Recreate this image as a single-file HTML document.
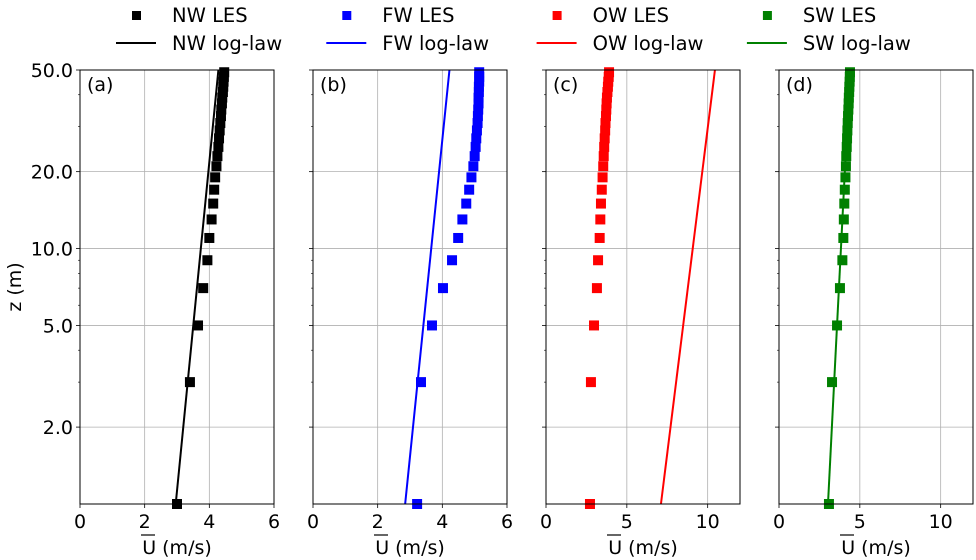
<!DOCTYPE html>
<html><head><meta charset="utf-8">
<style>
html,body{margin:0;padding:0;background:#fff;}
svg{display:block;font-family:"DejaVu Sans","Liberation Sans",sans-serif;}
</style></head>
<body>
<svg id="chart" width="976" height="560" viewBox="0 0 976 560" xmlns="http://www.w3.org/2000/svg"></svg>
<script>
const zLevels = [1,3,5,7,9,11,13,15,17,19,21,23,25,27,29,31,33,35,37,39,41,43,45,47,49];
const nwLes = [3.0,3.40,3.65,3.81,3.94,4.0,4.07,4.12,4.15,4.18,4.22,4.25,4.28,4.30,4.32,4.34,4.36,4.37,4.39,4.40,4.42,4.43,4.44,4.45,4.46];
const fwLes = [3.22,3.34,3.68,4.02,4.30,4.49,4.62,4.74,4.83,4.90,4.96,5.00,5.03,5.05,5.07,5.09,5.10,5.11,5.12,5.12,5.13,5.13,5.14,5.14,5.14];
const owLes = [2.72,2.78,2.97,3.15,3.22,3.32,3.36,3.40,3.45,3.50,3.54,3.57,3.60,3.63,3.66,3.68,3.71,3.73,3.75,3.77,3.80,3.83,3.85,3.88,3.90];
const swLes = [3.09,3.28,3.59,3.77,3.92,3.98,4.01,4.04,4.07,4.11,4.14,4.16,4.19,4.21,4.23,4.25,4.27,4.29,4.31,4.32,4.34,4.35,4.37,4.38,4.39];
const logLawZ = [1,50];
const nwLog = [2.96,4.28];
const fwLog = [2.85,4.22];
const owLog = [7.11,10.45];
const swLog = [3.03,4.39];
const panelLabels = ['(a)','(b)','(c)','(d)'];
const panelNames = ['nw','fw','ow','sw'];
const xMaxes = [6,6,12,12];
const xTicksSmall = [0,2,4,6];
const xTicksLarge = [0,5,10];
const yTickVals = [2,5,10,20,50];
const yTickLabels = ['2.0','5.0','10.0','20.0','50.0'];
const yMinorVals = [3,4,6,7,8,9,30,40];
const legendNames = ['NW','FW','OW','SW'];
const colors = ['#000000','#0000ff','#ff0000','#008000'];

const svgEl = document.getElementById('chart');
const NS = 'http://www.w3.org/2000/svg';
function mk(tag, attrs, parent){const e=document.createElementNS(NS,tag);for(const k in attrs)e.setAttribute(k,attrs[k]);(parent||svgEl).appendChild(e);return e;}

const axTop=70, axBot=504, axW=194;
const lefts=[80,313,546,779];
function yS(z){return axBot-(Math.log10(z)/Math.log10(50))*(axBot-axTop);}
const lesData=[nwLes,fwLes,owLes,swLes];
const logData=[nwLog,fwLog,owLog,swLog];

for(let p=0;p<4;p++){
  const x0=lefts[p], xm=xMaxes[p];
  const xS=v=>x0+v/xm*axW;
  const g=mk('g',{});
  
  
  const clipId='clip'+p;
  const cp=mk('clipPath',{id:clipId},g); mk('rect',{x:x0,y:axTop,width:axW,height:axBot-axTop},cp);
  const ticks = xm===6?xTicksSmall:xTicksLarge;
  ticks.forEach(t=>{
    const gl=mk('line',{x1:xS(t),x2:xS(t),y1:axTop,y2:axBot,stroke:'#b0b0b0','stroke-width':0.8},g);
    
    
    mk('line',{x1:xS(t),x2:xS(t),y1:axBot,y2:axBot+4,stroke:'#000','stroke-width':0.8},g);
    const tl=mk('text',{x:xS(t),y:axBot+24,'text-anchor':'middle','font-size':19,fill:'#000'},g);
    tl.textContent=t;
    
    
  });
  yTickVals.forEach((v,i)=>{
    const gl=mk('line',{x1:x0,x2:x0+axW,y1:yS(v),y2:yS(v),stroke:'#b0b0b0','stroke-width':0.8},g);
    
    
    mk('line',{x1:x0-4,x2:x0,y1:yS(v),y2:yS(v),stroke:'#000','stroke-width':0.8},g);
    if(p===0){
      const tl=mk('text',{x:x0-7,y:yS(v)+7,'text-anchor':'end','font-size':19,fill:'#000'},g);
      tl.textContent=yTickLabels[i];
      
      
    }
  });
  yMinorVals.forEach(v=>{mk('line',{x1:x0-2,x2:x0,y1:yS(v),y2:yS(v),stroke:'#000','stroke-width':0.6},g);});
  const ll=mk('line',{x1:xS(logData[p][0]),y1:yS(logLawZ[0]),x2:xS(logData[p][1]),y2:yS(logLawZ[1]),stroke:colors[p],'stroke-width':2,'clip-path':'url(#'+clipId+')'},g);
  
  
  lesData[p].forEach((u,i)=>{
    const r=mk('rect',{x:xS(u)-5,y:yS(zLevels[i])-5,width:10,height:10,fill:colors[p]},g);
    
    
  });
  const fr=mk('rect',{x:x0,y:axTop,width:axW,height:axBot-axTop,fill:'none',stroke:'#000','stroke-width':1},g);
  
  
  const pl=mk('text',{x:x0+7,y:axTop+21,'font-size':19,fill:'#000'},g);
  pl.textContent=panelLabels[p];
  
  
  const xl=mk('text',{x:x0+axW/2,y:554,'text-anchor':'middle','font-size':19,fill:'#000'},g);
  xl.textContent='U (m/s)';
  
  
  mk('line',{x1:x0+axW/2-36,x2:x0+axW/2-22,y1:535,y2:535,stroke:'#000','stroke-width':1.2},g);
}
const yl=mk('text',{x:21,y:287,'text-anchor':'middle','font-size':19,transform:'rotate(-90 21 287)',fill:'#000'});
yl.textContent='z (m)';



const lg=mk('g',{});


for(let i=0;i<4;i++){
  const tx=172+i*210.3;
  const m=mk('rect',{x:tx-40,y:11,width:9,height:9,fill:colors[i]},lg);
  
  
  const t1=mk('text',{x:tx,y:22,'font-size':19.5,fill:'#000'},lg);
  t1.textContent=legendNames[i]+' LES';
  
  
  const l=mk('line',{x1:tx-56,x2:tx-16,y1:43,y2:43,stroke:colors[i],'stroke-width':2},lg);
  
  
  const t2=mk('text',{x:tx,y:50,'font-size':19.5,fill:'#000'},lg);
  t2.textContent=legendNames[i]+' log-law';
  
  
}
</script>
</body></html>
